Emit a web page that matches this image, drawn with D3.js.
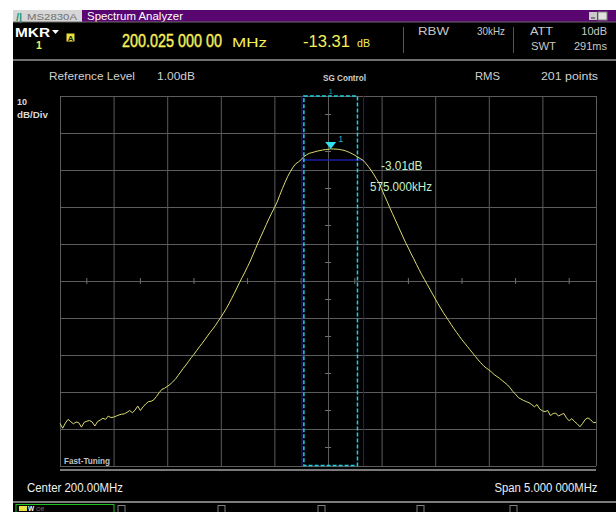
<!DOCTYPE html>
<html><head><meta charset="utf-8">
<script src="https://cdn.jsdelivr.net/npm/d3@7"></script>
<style>
html,body{margin:0;padding:0;background:#fff;}
svg{display:block;font-family:"Liberation Sans",Arial,sans-serif;}
</style></head>
<body>
<svg id="c" width="616" height="512"></svg>
<script>
// ---------------- data ----------------
const centerMHz = 200.0;
const spanMHz = 5.0;
const refLevel = 1.0;          // dB, top of screen
const dbPerDiv = 10;
const traceDb = [
 -87.5,-88.8,-87.4,-86.4,-87.0,-87.6,-87.1,-87.3,-88.5,-87.2,
 -86.9,-86.7,-87.1,-88.2,-87.0,-86.6,-86.1,-86.4,-85.5,-85.9,
 -85.8,-85.5,-85.2,-85.0,-84.9,-84.5,-84.0,-84.6,-83.9,-82.8,
 -84.0,-83.0,-82.2,-81.6,-81.5,-81.1,-80.2,-79.2,-78.3,-78.0,
 -77.5,-77.0,-76.3,-75.6,-74.6,-73.6,-72.6,-71.7,-70.7,-69.7,
 -68.8,-67.8,-66.8,-65.9,-64.9,-63.9,-62.9,-62.0,-61.0,-59.9,
 -58.8,-57.7,-56.5,-55.2,-53.8,-52.4,-50.9,-49.4,-48.0,-46.6,
 -45.1,-43.6,-41.9,-40.2,-38.5,-36.9,-35.3,-33.7,-32.1,-30.6,
 -29.2,-27.7,-25.8,-24.0,-22.3,-20.7,-19.4,-18.2,-17.3,-16.8,
 -16.2,-15.4,-14.9,-14.5,-14.3,-14.1,-13.9,-13.75,-13.6,-13.5,
 -13.4,-13.31,-13.32,-13.36,-13.42,-13.55,-13.7,-13.95,-14.25,-14.6,
 -15.0,-15.45,-15.9,-16.3,-17.1,-18.0,-19.0,-20.1,-21.3,-22.5,
 -24.1,-25.8,-27.4,-29.1,-30.7,-32.3,-33.9,-35.5,-37.1,-38.7,
 -40.1,-41.6,-43.0,-44.5,-45.9,-47.3,-48.6,-49.9,-51.2,-52.5,
 -53.8,-55.1,-56.3,-57.5,-58.6,-59.7,-60.8,-61.9,-62.9,-63.9,
 -64.9,-65.8,-66.7,-67.6,-68.5,-69.4,-70.3,-71.1,-71.9,-72.5,
 -73.0,-73.6,-74.3,-74.8,-75.3,-75.9,-76.5,-77.1,-77.9,-78.9,
 -79.6,-80.5,-80.9,-81.3,-81.6,-81.9,-82.4,-83.0,-82.4,-83.6,
 -84.1,-84.3,-84.0,-85.4,-84.8,-84.7,-85.5,-85.1,-84.8,-86.0,
 -86.8,-86.2,-87.0,-87.6,-88.4,-87.5,-86.4,-86.0,-86.5,-87.3,
 -87.2
];
const xGrid = [197.5,198.0,198.5,199.0,199.5,200.0,200.5,201.0,201.5,202.0,202.5];
const yGrid = [1,-9,-19,-29,-39,-49,-59,-69,-79,-89,-99];
const xMinor = [197.75,198.25,198.75,199.25,199.75,200.25,200.75,201.25,201.75,202.25];
const yMinor = [-4,-14,-24,-34,-44,-54,-64,-74,-84,-94];
const markerFreq = 200.025;   // MHz
const markerDb = -13.31;
const bwLeft = 199.757, bwRight = 200.332; // -3 dB points (575 kHz)
const bwDrop = 3.01;
const sgHalfWidth = 0.25;     // MHz

// ---------------- layout ----------------
const svg = d3.select("#c");
const L = 60, R = 596, T = 96, B = 466;
const x = d3.scaleLinear().domain([centerMHz - spanMHz/2, centerMHz + spanMHz/2]).range([L, R]);
const y = d3.scaleLinear().domain([refLevel - 10*dbPerDiv, refLevel]).range([B, T]);
const freqs = traceDb.map((d,i)=> centerMHz - spanMHz/2 + i*spanMHz/(traceDb.length-1));

// background
svg.append("rect").attr("x",13).attr("y",22).attr("width",603).attr("height",490).attr("fill","#000");
// title bar
svg.append("rect").attr("x",13).attr("y",10).attr("width",69).attr("height",12).attr("fill","#d6d6d6");
svg.append("text").attr("x",16).attr("y",20.5).attr("font-size",11).attr("font-weight","bold").attr("fill","#1a9a7a").text("/|");
svg.append("text").attr("x",27).attr("y",19.5).attr("font-size",9.5).attr("fill","#707070").attr("textLength",50).attr("lengthAdjust","spacingAndGlyphs").text("MS2830A");
svg.append("rect").attr("x",82).attr("y",10).attr("width",534).attr("height",12).attr("fill","#5a0670");
svg.append("text").attr("x",87).attr("y",19.8).attr("font-size",10.5).attr("fill","#ffffff").attr("textLength",96).attr("lengthAdjust","spacingAndGlyphs").text("Spectrum Analyzer");
svg.append("rect").attr("x",589).attr("y",12).attr("width",8).attr("height",8).attr("fill","#c8c8c8");
svg.append("rect").attr("x",598).attr("y",12).attr("width",9).attr("height",8).attr("fill","#e0e0e0").attr("stroke","#808080").attr("stroke-width",1);
svg.append("line").attr("x1",591).attr("x2",595).attr("y1",18).attr("y2",18).attr("stroke","#333");
svg.append("line").attr("x1",13).attr("x2",616).attr("y1",22).attr("y2",22).attr("stroke","#6a6a6a").attr("stroke-width",1);

// header
function txt(xp, yp, s, size, fill, opts={}) {
  const t = svg.append("text").attr("x",xp).attr("y",yp).attr("font-size",size).attr("fill",fill).text(s);
  if (opts.w) t.attr("textLength",opts.w).attr("lengthAdjust","spacingAndGlyphs");
  if (opts.bold) t.attr("font-weight","bold");
  if (opts.anchor) t.attr("text-anchor",opts.anchor);
  return t;
}
txt(15,36.5,"MKR",12.5,"#ffffff",{w:35,bold:true});
svg.append("path").attr("d","M52,30 L59,30 L55.5,34 Z").attr("fill","#ffffff");
txt(36,48.5,"1",10.5,"#f5f05a",{bold:true});
svg.append("rect").attr("x",66.5).attr("y",33.5).attr("width",8).attr("height",8).attr("fill","#e8e040");
txt(67.8,40.5,"A",8,"#202000",{bold:true});
svg.append("text").attr("transform","translate(122,46.5) scale(1,1.25)")
  .attr("font-size",14.4).attr("fill","#f5f05a").attr("stroke","#f5f05a").attr("stroke-width",0.35)
  .text("200.025 000 00");
txt(232,46.5,"MHz",13,"#f5f05a",{w:35});
txt(303,46.5,"-13.31",17,"#f5f05a",{w:47});
txt(357,46.5,"dB",11,"#f5f05a",{w:13});
svg.append("line").attr("x1",403.5).attr("x2",403.5).attr("y1",27).attr("y2",53).attr("stroke","#555");
svg.append("line").attr("x1",513.5).attr("x2",513.5).attr("y1",27).attr("y2",53).attr("stroke","#555");
txt(418,35,"RBW",11,"#c8c8c8",{w:31});
txt(477,35,"30kHz",11,"#c8c8c8",{w:28});
txt(530,35,"ATT",11,"#c8c8c8",{w:23});
txt(607,35,"10dB",11,"#c8c8c8",{anchor:"end"});
txt(531,50,"SWT",11,"#c8c8c8",{w:25});
txt(607,50,"291ms",11,"#c8c8c8",{anchor:"end"});
svg.append("line").attr("x1",13).attr("x2",616).attr("y1",60).attr("y2",60).attr("stroke","#6e6e6e").attr("stroke-width",2);

// second row
txt(49,80,"Reference Level",11,"#d0d0d0",{w:86});
txt(157,80,"1.00dB",11,"#d0d0d0",{w:38});
txt(323,81,"SG Control",8.5,"#d0d0d0",{w:43,bold:true});
txt(475,80,"RMS",11,"#d0d0d0",{w:25});
txt(541,80,"201 points",11,"#d0d0d0",{w:57});
txt(17,105,"10",9,"#d8d8d8",{bold:true});
txt(17,118,"dB/Div",9,"#d8d8d8",{w:31,bold:true});

// grid via axes
const gridColor = "#5c5c5c";
const gx = svg.append("g").attr("transform",`translate(0,${B})`)
  .call(d3.axisBottom(x).tickValues(xGrid).tickSize(-(B-T)).tickFormat(""));
const gy = svg.append("g").attr("transform",`translate(${L},0)`)
  .call(d3.axisLeft(y).tickValues(yGrid).tickSize(-(R-L)).tickFormat(""));
[gx,gy].forEach(g=>{ g.select(".domain").remove(); g.selectAll("line").attr("stroke",gridColor).attr("stroke-width",1); });
// center cross minor ticks
svg.append("g").selectAll("line").data(xMinor).join("line")
  .attr("x1",d=>x(d)).attr("x2",d=>x(d)).attr("y1",y(-49)-3).attr("y2",y(-49)+3).attr("stroke","#707070");
svg.append("g").selectAll("line").data(yMinor).join("line")
  .attr("x1",x(centerMHz)-3).attr("x2",x(centerMHz)+3).attr("y1",d=>y(d)).attr("y2",d=>y(d)).attr("stroke","#707070");

// lower separator lines
svg.append("line").attr("x1",L).attr("x2",R).attr("y1",470).attr("y2",470).attr("stroke","#7a7a7a").attr("stroke-width",2);
svg.append("line").attr("x1",13).attr("x2",616).attr("y1",502).attr("y2",502).attr("stroke","#7a7a7a").attr("stroke-width",2);

// bandwidth lines (blue)
const blue = "#1c1ca8";
[bwLeft,bwRight].forEach(f=>{
  svg.append("line").attr("x1",x(f)).attr("x2",x(f)).attr("y1",T).attr("y2",B).attr("stroke",blue).attr("stroke-width",1);
});
svg.append("line").attr("x1",x(bwLeft)).attr("x2",x(bwRight)).attr("y1",y(markerDb-bwDrop)).attr("y2",y(markerDb-bwDrop))
  .attr("stroke",blue).attr("stroke-width",1.5);

// SG control box
svg.append("rect").attr("x",x(markerFreq-sgHalfWidth)).attr("y",T).attr("width",x(markerFreq+sgHalfWidth)-x(markerFreq-sgHalfWidth))
  .attr("height",B-T-0.5).attr("fill","none").attr("stroke","#22d0e0").attr("stroke-width",1.5).attr("stroke-dasharray","4,2");
txt(x(markerFreq),94,"1",8,"#1a9a9a",{anchor:"middle"});

// trace
svg.append("path").datum(traceDb)
  .attr("d", d3.line().x((d,i)=>x(freqs[i])).y(d=>y(d)))
  .attr("fill","none").attr("stroke","#dcdc72").attr("stroke-width",1);

// marker
const mx = x(markerFreq), my = y(markerDb);
svg.append("path").attr("d",`M${mx-5.5},${my-7} L${mx+5.5},${my-7} L${mx},${my} Z`).attr("fill","#30e0f0");
txt(mx+7.5,my-6.5,"1",9,"#20b0b0");
txt(381,170,"-3.01dB",12.5,"#c8f0c8",{w:41.5});
txt(370,190.5,"575.000kHz",12.5,"#c8f0c8",{w:62});

txt(64,464,"Fast-Tuning",8.5,"#c0c0c0",{w:46,bold:true});

// bottom labels
txt(27,492,"Center 200.00MHz",12.5,"#f0f0f0",{w:96});
txt(494.5,492,"Span 5.000 000MHz",12.5,"#f0f0f0",{w:103});

// soft key tabs
svg.append("rect").attr("x",16).attr("y",504.5).attr("width",98).attr("height",10).attr("fill","none").attr("stroke","#20c020").attr("stroke-width",1);
svg.append("rect").attr("x",19).attr("y",506).attr("width",8).attr("height",5).attr("fill","#e8e040");
txt(28,510.5,"W",6.5,"#ffffff",{bold:true});
txt(36,510.5,"Off",6,"#808080");
[118,218,318,417,510].forEach(px=>{
  svg.append("rect").attr("x",px).attr("y",505.5).attr("width",7).attr("height",7).attr("fill","none").attr("stroke","#808080");
});
</script>
</body></html>
